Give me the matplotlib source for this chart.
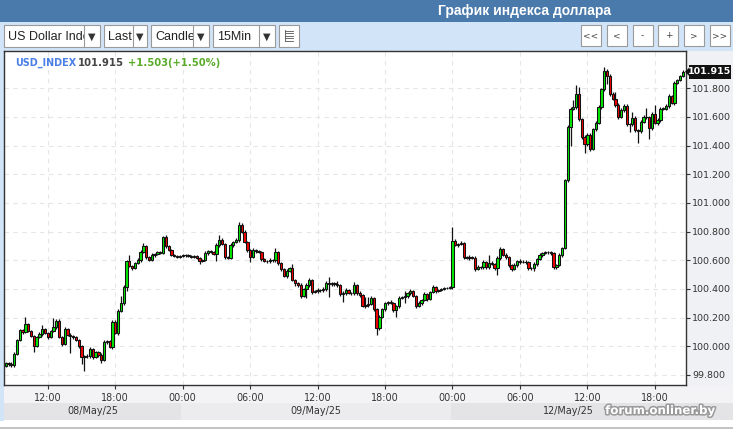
import matplotlib
matplotlib.use('Agg')
import matplotlib.pyplot as plt
from matplotlib.patches import Rectangle, Polygon
from matplotlib.transforms import Bbox, TransformedBbox
import matplotlib.patheffects as pe
import numpy as np

# ---------------- data ----------------
first_open = 99.863
closes = [
    99.884, 99.877, 99.870, 99.946, 100.044, 100.114, 100.100, 100.156, 100.107, 100.072,
    100.002, 100.065, 100.086, 100.121, 100.093, 100.065, 100.107, 100.135, 100.177, 100.065,
    100.016, 100.121, 100.079, 100.072, 100.065, 100.044, 100.002, 99.926, 99.933, 99.930,
    99.981, 99.926, 99.960, 99.940, 99.905, 100.030, 100.037, 99.995, 100.170, 100.093,
    100.246, 100.302, 100.414, 100.595, 100.560, 100.546, 100.581, 100.602, 100.658, 100.700,
    100.623, 100.602, 100.637, 100.644, 100.658, 100.651, 100.763, 100.700, 100.672, 100.637,
    100.630, 100.623, 100.630, 100.637, 100.635, 100.630, 100.623, 100.628, 100.616, 100.595,
    100.602, 100.651, 100.665, 100.658, 100.644, 100.707, 100.742, 100.714, 100.623, 100.616,
    100.707, 100.728, 100.742, 100.846, 100.798, 100.728, 100.672, 100.623, 100.672, 100.665,
    100.658, 100.609, 100.595, 100.593, 100.602, 100.600, 100.658, 100.581, 100.539, 100.490,
    100.525, 100.546, 100.462, 100.441, 100.427, 100.351, 100.399, 100.427, 100.462, 100.379,
    100.386, 100.393, 100.390, 100.399, 100.441, 100.434, 100.441, 100.434, 100.427, 100.365,
    100.372, 100.393, 100.372, 100.370, 100.427, 100.372, 100.358, 100.281, 100.288, 100.295,
    100.337, 100.260, 100.128, 100.205, 100.260, 100.302, 100.309, 100.302, 100.253, 100.281,
    100.337, 100.344, 100.351, 100.372, 100.386, 100.351, 100.281, 100.302, 100.323, 100.365,
    100.330, 100.379, 100.414, 100.386, 100.393, 100.399, 100.406, 100.408, 100.414, 100.735,
    100.707, 100.714, 100.721, 100.623, 100.616, 100.623, 100.618, 100.539, 100.553, 100.550,
    100.588, 100.553, 100.581, 100.574, 100.546, 100.616, 100.679, 100.637, 100.623, 100.567,
    100.539, 100.567, 100.595, 100.588, 100.590, 100.586, 100.546, 100.544, 100.574, 100.609,
    100.637, 100.651, 100.658, 100.656, 100.651, 100.553, 100.567, 100.637, 100.686, 101.160,
    101.530, 101.656, 101.670, 101.760, 101.586, 101.460, 101.411, 101.474, 101.377, 101.516,
    101.558, 101.670, 101.795, 101.921, 101.886, 101.760, 101.725, 101.684, 101.600, 101.649,
    101.677, 101.551, 101.548, 101.593, 101.509, 101.502, 101.565, 101.600, 101.598, 101.523,
    101.621, 101.558, 101.579, 101.656, 101.658, 101.677, 101.746, 101.697, 101.837, 101.858,
    101.886, 101.915,
]
# wick lengths above / below the body, in thousandths of an index point
wick_up = [
    8, 7, 10, 14, 9, 10, 8, 49, 10, 8,
    10, 9, 12, 28, 9, 8, 10, 63, 12, 10,
    8, 14, 9, 12, 10, 8, 9, 10, 8, 10,
    12, 9, 10, 8, 10, 14, 9, 10, 12, 10,
    14, 50, 12, 10, 42, 10, 9, 12, 14, 21,
    10, 8, 12, 9, 10, 8, 7, 10, 9, 8,
    7, 9, 8, 10, 7, 9, 8, 10, 8, 10,
    9, 12, 10, 8, 10, 12, 35, 10, 9, 8,
    12, 10, 14, 21, 12, 10, 9, 10, 12, 9,
    10, 8, 10, 9, 12, 10, 28, 10, 9, 10,
    14, 10, 25, 9, 10, 12, 10, 14, 12, 10,
    9, 12, 10, 14, 12, 42, 10, 9, 20, 10,
    12, 14, 10, 9, 20, 10, 12, 10, 56, 50,
    12, 10, 9, 12, 10, 9, 10, 12, 10, 9,
    12, 10, 35, 10, 12, 9, 10, 12, 10, 14,
    10, 9, 12, 10, 8, 9, 7, 8, 7, 98,
    12, 10, 14, 10, 9, 12, 10, 9, 12, 10,
    14, 10, 56, 12, 10, 12, 14, 10, 12, 9,
    10, 12, 9, 14, 10, 9, 12, 10, 12, 10,
    12, 9, 10, 8, 12, 10, 9, 12, 10, 8,
    14, 12, 49, 63, 49, 10, 12, 14, 12, 10,
    12, 14, 10, 28, 10, 12, 14, 49, 12, 10,
    14, 12, 10, 42, 12, 10, 14, 12, 63, 12,
    14, 63, 12, 10, 9, 12, 14, 10, 12, 9,
    10, 14,
]
wick_dn = [
    10, 12, 14, 14, 10, 9, 12, 10, 9, 10,
    42, 10, 9, 12, 10, 14, 9, 10, 12, 10,
    14, 10, 9, 119, 12, 10, 14, 50, 98, 10,
    12, 14, 10, 12, 20, 10, 14, 9, 12, 10,
    12, 10, 14, 28, 10, 12, 9, 10, 12, 10,
    14, 10, 9, 12, 10, 8, 10, 12, 9, 10,
    8, 9, 10, 8, 9, 7, 10, 8, 9, 21,
    10, 9, 12, 10, 9, 49, 12, 10, 14, 10,
    9, 12, 10, 12, 10, 9, 12, 35, 10, 12,
    9, 12, 10, 9, 10, 12, 10, 14, 12, 10,
    12, 10, 9, 20, 14, 12, 10, 63, 12, 14,
    10, 12, 9, 14, 10, 91, 12, 10, 14, 12,
    56, 12, 10, 9, 12, 14, 12, 10, 12, 15,
    10, 12, 49, 12, 10, 14, 12, 10, 12, 49,
    12, 10, 42, 12, 14, 10, 12, 9, 12, 10,
    12, 10, 9, 12, 10, 9, 8, 9, 10, 12,
    10, 12, 9, 14, 10, 12, 9, 14, 10, 12,
    10, 14, 12, 10, 14, 49, 12, 10, 12, 14,
    12, 10, 14, 12, 10, 9, 14, 10, 20, 12,
    10, 12, 9, 10, 12, 14, 12, 10, 12, 10,
    12, 133, 10, 12, 14, 12, 63, 12, 14, 10,
    12, 10, 14, 12, 56, 12, 10, 14, 12, 10,
    12, 14, 56, 10, 12, 84, 14, 10, 12, 77,
    12, 10, 14, 12, 10, 9, 12, 10, 14, 10,
    9, 10,
]
time_tick_idx = [15, 39, 63, 87, 111, 135, 159, 183, 207, 231]
time_tick_lbl = ["12:00", "18:00", "00:00", "06:00", "12:00", "18:00",
                 "00:00", "06:00", "12:00", "18:00"]
day_labels = ["08/May/25", "09/May/25", "12/May/25"]
day_starts = [-0.5, 62.5, 158.5]
y_ticks = [99.8, 100.0, 100.2, 100.4, 100.6, 100.8, 101.0, 101.2, 101.4, 101.6, 101.8]
last_price = 101.915
change_txt = "+1.503(+1.50%)"

# ---------------- figure ----------------
W, H = 733, 430
fig = plt.figure(figsize=(W / 100, H / 100), dpi=100)
fig.patch.set_facecolor('white')


def R(x0, y0, x1, y1, fc, ec='none', lw=0.0, z=-5):
    fig.patches.append(Rectangle((x0 / W, 1 - y1 / H), (x1 - x0) / W, (y1 - y0) / H,
                                 transform=fig.transFigure, facecolor=fc,
                                 edgecolor=ec, linewidth=lw, zorder=z))


def T(x, y, s, **kw):
    kw.setdefault('va', 'center')
    return fig.text(x / W, 1 - y / H, s, **kw)


# header / toolbar / frame backgrounds
R(0, 0, W, 22, '#4a7aab')
R(0, 22, W, 51, '#d2e4f8')
R(0, 51, 4, 421, '#d2e4f8')
R(686, 51, W, 385, '#f0f1f4')
R(4, 385, W, 403, '#f3f3f5')
R(0, 427, W, 428.5, '#c4c4c4')
T(524, 10.5, "График индекса доллара", ha='center', color='white',
  fontsize=10, fontweight='bold', family='Liberation Sans')

# dropdowns
drops = [("US Dollar Inde", 4, 84, 100), ("Last", 104, 133, 147),
         ("Candle", 151, 193, 209), ("15Min", 213, 259, 275)]
for lbl, x0, xd, x1 in drops:
    R(x0, 25, x1, 47, 'white', '#9a9a9a', 0.8, z=1)
    fig.lines.append(plt.Line2D([xd / W, xd / W], [1 - 26 / H, 1 - 46 / H],
                                transform=fig.transFigure, color='#9a9a9a', lw=0.8, zorder=2))
    t = T(x0 + 4, 36.5, lbl, ha='left', fontsize=9, color='#222222',
          family='Liberation Sans', zorder=3)
    t.set_clip_box(TransformedBbox(Bbox([[x0 / W, 0], [xd / W, 1]]), fig.transFigure))
    t.set_clip_on(True)
    T((xd + x1) / 2, 37, "▼", ha='center', fontsize=7, color='#333333',
      family='DejaVu Sans', zorder=3)
R(279, 25, 299, 47, 'white', '#9a9a9a', 0.8, z=1)
for k in range(5):
    yy = 31 + k * 2.4
    fig.lines.append(plt.Line2D([285 / W, 293 / W], [1 - yy / H, 1 - yy / H],
                                transform=fig.transFigure, color='#555555', lw=0.6, zorder=3))
fig.lines.append(plt.Line2D([285 / W, 285 / W], [1 - 30 / H, 1 - 41 / H],
                            transform=fig.transFigure, color='#555555', lw=0.6, zorder=3))
for k, s in enumerate(["<<", "<", "-", "+", ">", ">>"]):
    x0 = 581 + k * 25.8
    R(x0, 25, x0 + 20, 46, 'white', '#9a9a9a', 0.8, z=1)
    T(x0 + 10, 35.5, s, ha='center', fontsize=6.5, color='#444444',
      family='DejaVu Sans', zorder=3)

# ---------------- main chart ----------------
xmin = -0.605
px_per = 2.81
xmax = xmin + 682 / px_per
ymin, ymax = 99.730, 102.060

ax = fig.add_axes([4 / W, 1 - 385 / H, 682 / W, 334 / H])
ax.set_zorder(2)
ax.set_facecolor('white')
ax.set_xlim(xmin, xmax)
ax.set_ylim(ymin, ymax)

c = np.array(closes)
o = np.concatenate([[first_open], c[:-1]])
top = np.maximum(o, c)
bot = np.minimum(o, c)
hi = top + np.array(wick_up) / 1000.0
lo = bot - np.array(wick_dn) / 1000.0
x = np.arange(len(c))
up = c >= o
cols = np.where(up, '#00e600', '#f00000')

ax.vlines(x, lo, hi, color='#111111', lw=0.9, zorder=3)
ax.bar(x, np.maximum(top - bot, 0.003), bottom=bot, width=0.82, color=cols,
       edgecolor='#111111', linewidth=0.75, zorder=4)

ax.set_yticks(y_ticks)
ax.set_yticklabels([f"{v:.3f}" for v in y_ticks])
ax.yaxis.tick_right()
ax.set_xticks(time_tick_idx)
ax.set_xticklabels(time_tick_lbl)
ax.tick_params(axis='y', direction='out', length=3, width=0.8, colors='#333333',
               labelsize=6.8, pad=1.5, labelcolor='#333333')
ax.tick_params(axis='x', direction='out', length=3, width=0.8, colors='#333333',
               labelsize=6.9, pad=2.5, labelcolor='#333333')
ax.grid(True, color='#e6e6e6', lw=0.8, linestyle=(0, (4, 4)), zorder=0)
for s in ax.spines.values():
    s.set_color('#333333')
    s.set_linewidth(1.0)

# legend text
T(15, 62.5, "USD_INDEX", ha='left', fontsize=6.9, color='#4a7fe6', fontweight='bold', zorder=5)
T(78, 62.5, f"{last_price:.3f}", ha='left', fontsize=7.2, color='#444444',
  fontweight='bold', zorder=5)
T(128, 62.5, change_txt, ha='left', fontsize=7.2, color='#5aab2a', fontweight='bold', zorder=5)

# last price marker
yl = ax.transData.transform((0, last_price))[1]
yl_px = H - yl
fig.patches.append(Polygon([[685 / W, 1 - yl_px / H], [689 / W, 1 - (yl_px - 4) / H],
                            [689 / W, 1 - (yl_px + 4) / H]], closed=True,
                           transform=fig.transFigure, facecolor='#111111', zorder=5))
R(689, yl_px - 7, 731, yl_px + 7, '#111111', z=5)
T(710, yl_px, f"{last_price:.3f}", ha='center', fontsize=6.8, color='white',
  fontweight='bold', zorder=6)

# ---------------- day band ----------------
bax = fig.add_axes([4 / W, 1 - 420 / H, 729 / W, 17 / H])
bax.set_zorder(1)
bxmax = xmin + 729 / px_per
bax.set_xlim(xmin, bxmax)
bax.set_ylim(0, 1)
bax.axis('off')
band_cols = ['#e4e4e6', '#ececee', '#e4e4e6']
ends = day_starts[1:] + [bxmax]
for k, lbl in enumerate(day_labels):
    bax.axvspan(max(day_starts[k], xmin), ends[k], color=band_cols[k], lw=0)
    cx = (max(day_starts[k], xmin) + min(ends[k], xmax)) / 2
    bax.text(cx, 0.55, lbl, ha='center', va='center', fontsize=6.9, color='#333333')

# watermark
T(660, 410.5, "forum.onliner.by", ha='center', fontsize=8.5, color='white',
  fontweight='bold', zorder=10,
  path_effects=[pe.withStroke(linewidth=2.2, foreground='#9a9a9a')])

fig.savefig('out.png', dpi=100)
